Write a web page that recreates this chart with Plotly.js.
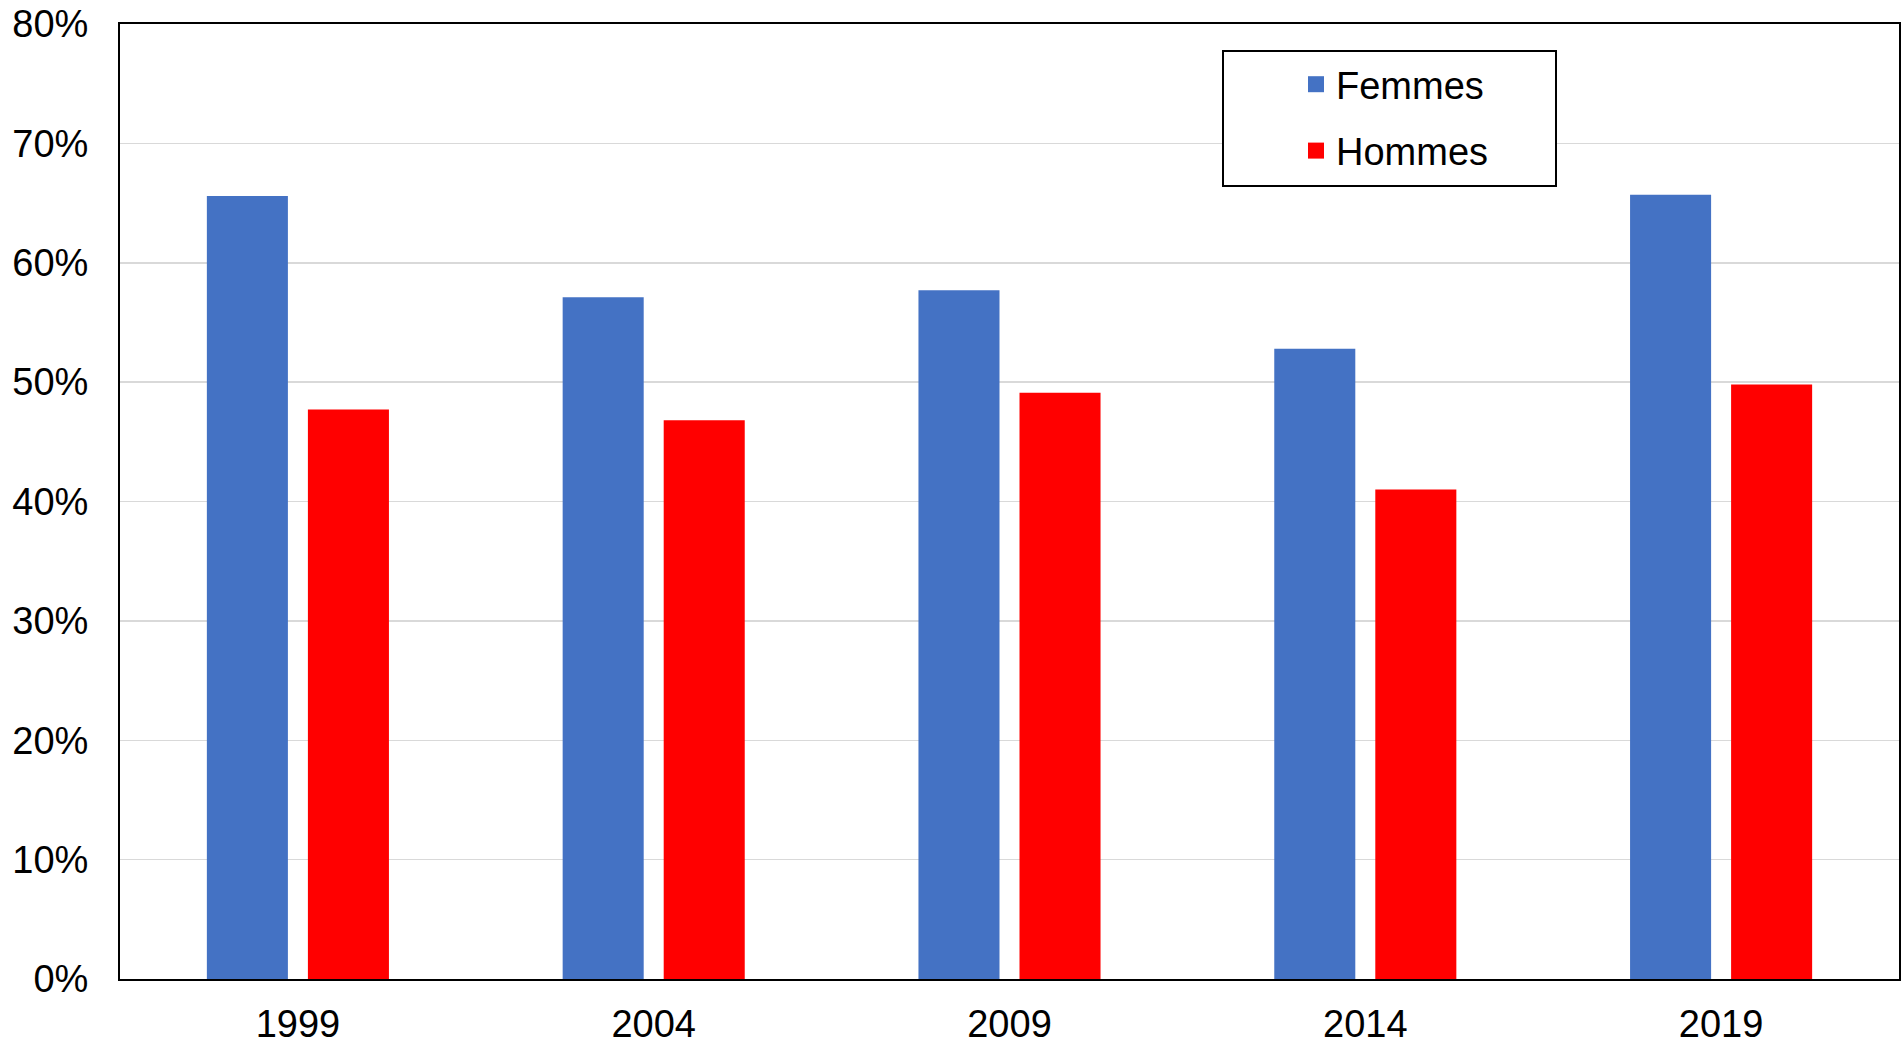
<!DOCTYPE html>
<html>
<head>
<meta charset="utf-8">
<script src="https://cdn.plot.ly/plotly-3.0.1.min.js"></script>
<style>
  html, body { margin: 0; padding: 0; background: #ffffff; }
  #chart { width: 1903px; height: 1044px; }
</style>
</head>
<body>
<div id="chart"></div>
<script>
  const years = ["1999", "2004", "2009", "2014", "2019"];
  const femmes = [0.656, 0.571, 0.577, 0.528, 0.657];
  const hommes = [0.477, 0.468, 0.491, 0.410, 0.498];
  const yTicks = [0, 0.1, 0.2, 0.3, 0.4, 0.5, 0.6, 0.7, 0.8];
  const yTickText = ["0%", "10%", "20%", "30%", "40%", "50%", "60%", "70%", "80%"];

  const BLUE = "#4472C4";
  const RED = "#FF0000";
  const FONT = "Liberation Sans, Arial, sans-serif";

  const W = 1903;
  const H = 1044;
  const margin = { l: 120, r: 4, t: 24, b: 65 };

  // legend box in pixels, converted to paper coords
  const px = (x) => (x - margin.l) / (W - margin.l - margin.r);
  const py = (y) => 1 - (y - margin.t) / (H - margin.t - margin.b);

  const traces = [
    {
      type: "bar",
      x: years,
      y: femmes,
      name: "Femmes",
      marker: { color: BLUE },
      showlegend: false,
      hovertemplate: "%{x}: %{y:.1%}<extra>Femmes</extra>"
    },
    {
      type: "bar",
      x: years,
      y: hommes,
      name: "Hommes",
      marker: { color: RED },
      showlegend: false,
      hovertemplate: "%{x}: %{y:.1%}<extra>Hommes</extra>"
    },
    // legend-only entries so the square keys can be bigger than bar keys
    {
      type: "scatter",
      mode: "markers",
      x: [null],
      y: [null],
      name: "Femmes",
      legendgroup: "f",
      marker: { symbol: "square", size: 20, color: BLUE }
    },
    {
      type: "scatter",
      mode: "markers",
      x: [null],
      y: [null],
      name: "Hommes",
      legendgroup: "h",
      marker: { symbol: "square", size: 20, color: RED }
    }
  ];

  const layout = {
    width: W,
    height: H,
    margin,
    paper_bgcolor: "#ffffff",
    plot_bgcolor: "#ffffff",
    font: { family: FONT, size: 38, color: "#000000" },
    barmode: "group",
    bargap: 0.432,
    bargroupgap: 0.198,
    showlegend: true,
    legend: {
      x: px(1296),
      y: py(53),
      xanchor: "left",
      yanchor: "top",
      bgcolor: "rgba(0,0,0,0)",
      borderwidth: 0,
      font: { family: FONT, size: 38, color: "#000000" },
      tracegroupgap: 14,
      itemsizing: "trace"
    },
    xaxis: {
      type: "category",
      showline: true,
      linecolor: "#000000",
      linewidth: 2,
      mirror: true,
      ticks: "",
      ticklabelstandoff: 10,
      showgrid: false,
      zeroline: false,
      tickfont: { family: FONT, size: 38, color: "#000000" }
    },
    yaxis: {
      range: [0, 0.8],
      tickmode: "array",
      tickvals: yTicks,
      ticktext: yTickText,
      showline: true,
      linecolor: "#000000",
      linewidth: 2,
      mirror: true,
      ticks: "",
      ticklabelstandoff: 22,
      showgrid: true,
      gridcolor: "#d9d9d9",
      gridwidth: 1.5,
      zeroline: false,
      tickfont: { family: FONT, size: 38, color: "#000000" }
    },
    shapes: [
      {
        type: "rect",
        xref: "paper",
        yref: "paper",
        x0: px(1223),
        x1: px(1556),
        y0: py(51),
        y1: py(186),
        line: { color: "#000000", width: 2 },
        fillcolor: "#ffffff",
        layer: "above"
      }
    ]
  };

  Plotly.newPlot("chart", traces, layout, { displayModeBar: false, staticPlot: true });
</script>
</body>
</html>
